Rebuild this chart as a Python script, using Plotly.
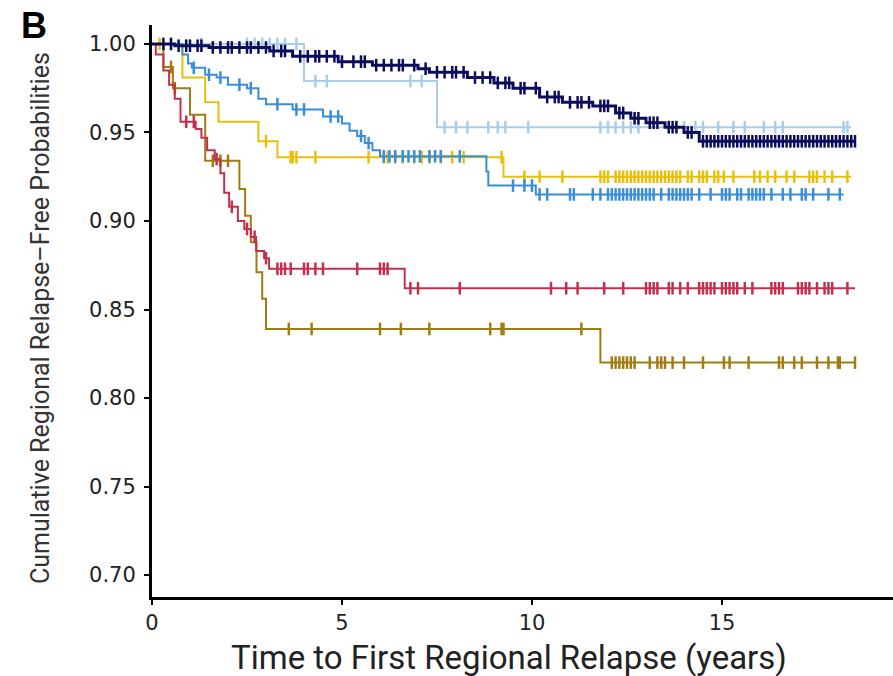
import numpy as np
import plotly.graph_objects as go

# ---------------- data ----------------
navy_t = [0.6, 1.5, 3.1, 3.7, 4.9, 5.8, 7.0, 7.3, 8.3, 9.0, 9.5, 10.2, 10.8, 11.6, 12.2, 12.6, 13.0, 13.5, 14.0, 14.4]
navy_s = [0.999, 0.998, 0.996, 0.993, 0.990, 0.988, 0.986, 0.984, 0.981, 0.978, 0.975, 0.970, 0.967, 0.965, 0.961, 0.958, 0.9555, 0.953, 0.950, 0.945]
navy_end = 18.5
navy_cens = [0.3, 0.5, 0.7, 0.9, 1.0, 1.2, 1.3, 1.6, 1.8, 2.0, 2.1, 2.3, 2.5, 2.6, 2.8, 3.0, 3.2, 3.4, 3.5, 3.9,
             4.1, 4.3, 4.4, 4.6, 4.8, 5.0, 5.3, 5.5, 5.6, 5.9, 6.1, 6.3, 6.5, 6.6, 6.9, 7.2, 7.5, 7.7, 7.9, 8.0,
             8.2, 8.5, 8.7, 8.9, 9.1, 9.3, 9.4, 9.7, 9.8, 10.1, 10.4, 10.6, 10.7, 11.0, 11.2, 11.3, 11.5, 11.8,
             11.9, 12.0, 12.3, 12.4, 12.7, 12.8, 13.1, 13.2, 13.3, 13.6, 13.7, 13.8, 14.1, 14.2, 14.5, 14.6, 14.7,
             14.8, 14.9, 15.0, 15.1, 15.2, 15.3, 15.4, 15.5, 15.6, 15.7, 15.8, 15.9, 16.0, 16.1, 16.2, 16.3, 16.4,
             16.5, 16.6, 16.7, 16.8, 16.9, 17.0, 17.1, 17.2, 17.3, 17.4, 17.5, 17.6, 17.7, 17.8, 17.9, 18.0, 18.1,
             18.2, 18.3, 18.4, 18.5]

light_t = [4.0, 7.5]
light_s = [0.979, 0.953]
light_end = 18.4
light_cens = [1.3, 2.5, 2.7, 2.9, 3.1, 3.3, 3.5, 3.8, 4.3, 4.6, 6.8, 7.1, 7.7, 8.0, 8.3, 8.85, 9.1, 9.3, 9.9,
              11.8, 12.0, 12.2, 12.4, 12.6, 12.8, 13.6, 13.8, 14.0, 14.3, 14.5, 14.9, 15.3, 15.6, 16.1, 16.4,
              16.6, 18.2, 18.3]

mid_t = [0.8, 0.95, 1.05, 1.4, 1.7, 2.0, 2.5, 2.8, 3.0, 3.7, 4.5, 5.0, 5.2, 5.4, 5.6, 5.8, 6.0, 8.8, 8.85, 10.1]
mid_s = [0.994, 0.989, 0.9865, 0.9826, 0.981, 0.977, 0.975, 0.969, 0.966, 0.963, 0.959, 0.955, 0.951, 0.948,
         0.944, 0.940, 0.9365, 0.928, 0.920, 0.915]
mid_end = 18.2
mid_cens = [1.1, 1.5, 1.8, 2.3, 2.6, 3.3, 3.8, 4.0, 4.7, 4.9, 5.5, 5.7, 6.1, 6.25, 6.4, 6.6, 6.75, 6.9, 7.05,
            7.3, 7.45, 7.6, 8.1, 9.5, 9.8, 10.0, 10.2, 10.4, 11.0, 11.1, 11.6, 11.8, 12.0, 12.1, 12.2, 12.3,
            12.4, 12.5, 12.6, 12.7, 12.8, 12.9, 13.0, 13.1, 13.2, 13.4, 13.6, 13.7, 13.8, 13.9, 14.0, 14.1,
            14.2, 14.4, 14.7, 15.0, 15.1, 15.2, 15.4, 15.5, 15.7, 15.8, 15.9, 16.0, 16.1, 16.3, 16.6, 16.8,
            17.1, 17.2, 17.4, 17.8, 18.1]

yel_t = [0.8, 1.4, 1.75, 2.8, 3.3, 9.25]
yel_s = [0.981, 0.967, 0.956, 0.945, 0.936, 0.925]
yel_end = 18.4
yel_cens = [0.2, 0.5, 3.0, 3.65, 3.7, 3.8, 4.3, 5.7, 6.1, 6.2, 6.4, 6.6, 6.9, 7.1, 7.3, 7.6, 7.9, 8.2, 9.2,
            9.8, 10.2, 10.8, 11.8, 11.9, 12.0, 12.2, 12.3, 12.4, 12.5, 12.6, 12.7, 12.8, 12.9, 13.0, 13.1,
            13.2, 13.3, 13.4, 13.5, 13.6, 13.7, 13.8, 13.9, 14.1, 14.2, 14.4, 14.5, 14.6, 14.8, 14.9, 15.05,
            15.3, 15.85, 16.0, 16.2, 16.4, 16.7, 16.9, 17.3, 17.4, 17.5, 17.7, 17.9, 18.3]

red_t = [0.1, 0.3, 0.45, 0.6, 0.75, 1.15, 1.3, 1.45, 1.65, 1.8, 1.9, 2.03, 2.26, 2.43, 2.6, 2.74, 2.95, 3.08, 6.65]
red_s = [0.994, 0.985, 0.977, 0.969, 0.956, 0.952, 0.947, 0.940, 0.935, 0.927, 0.916, 0.908, 0.900, 0.8955,
         0.891, 0.883, 0.879, 0.873, 0.862]
red_end = 18.5
red_cens = [0.9, 1.1, 1.7, 2.1, 2.5, 2.7, 3.0, 3.3, 3.4, 3.5, 3.65, 4.0, 4.1, 4.3, 4.5, 5.4, 6.0, 6.1, 6.2,
            6.8, 7.0, 8.1, 10.5, 10.9, 11.2, 11.9, 12.4, 13.0, 13.1, 13.2, 13.3, 13.6, 13.7, 13.9, 14.1,
            14.4, 14.5, 14.6, 14.7, 14.8, 15.0, 15.1, 15.2, 15.3, 15.4, 15.6, 15.8, 16.3, 16.4, 16.5, 16.6,
            17.0, 17.1, 17.2, 17.3, 17.5, 17.7, 17.8, 17.9, 18.3]

oli_t = [0.3, 0.55, 1.0, 1.4, 2.3, 2.45, 2.6, 2.75, 2.9, 3.0, 11.8]
oli_s = [0.987, 0.975, 0.960, 0.934, 0.918, 0.903, 0.888, 0.871, 0.856, 0.839, 0.820]
oli_end = 18.5
oli_cens = [0.5, 0.6, 1.6, 1.8, 2.0, 3.6, 4.2, 6.0, 6.55, 7.3, 8.9, 9.2, 9.25, 11.3, 12.1, 12.2, 12.3, 12.4,
            12.5, 12.6, 12.7, 13.1, 13.3, 13.4, 13.5, 13.7, 14.0, 14.5, 15.05, 15.2, 15.7, 16.5, 16.6, 16.9,
            17.1, 17.5, 17.8, 18.05, 18.1, 18.5]

x_ticks = [0, 5, 10, 15]
y_ticks = [0.70, 0.75, 0.80, 0.85, 0.90, 0.95, 1.00]

series = [
    ("light", light_t, light_s, light_end, light_cens, "#a9cdea", 2),
    ("olive", oli_t, oli_s, oli_end, oli_cens, "#a07c10", 2),
    ("red", red_t, red_s, red_end, red_cens, "#c3304f", 2),
    ("yellow", yel_t, yel_s, yel_end, yel_cens, "#e8c00c", 2),
    ("mid", mid_t, mid_s, mid_end, mid_cens, "#3a8ed8", 2),
    ("navy", navy_t, navy_s, navy_end, navy_cens, "#0c0c5c", 3),
]

fig = go.Figure()
for name, t, s, tend, cens, col, lw in series:
    xs = [0.0] + list(t) + [tend]
    ys = [1.0] + list(s) + [s[-1]]
    fig.add_trace(go.Scatter(x=xs, y=ys, mode="lines", line=dict(color=col, width=lw, shape="hv"),
                             showlegend=False, hoverinfo="skip"))
    tt = np.array(t)
    ss = np.array(s)
    c = np.array(cens)
    idx = np.searchsorted(tt, c, side="right") - 1
    cy = np.where(idx >= 0, ss[np.clip(idx, 0, None)], 1.0)
    fig.add_trace(go.Scatter(x=c, y=cy, mode="markers",
                             marker=dict(symbol="line-ns", size=9, line=dict(color=col, width=2.5)),
                             showlegend=False, hoverinfo="skip"))

fig.update_layout(
    width=893, height=676,
    margin=dict(l=152, r=0, t=25, b=79),
    paper_bgcolor="white", plot_bgcolor="white",
    font=dict(family="Liberation Sans, Arial, sans-serif", color="#222"),
)
fig.update_xaxes(range=[0, 19.5], tickvals=x_ticks, ticktext=[str(v) for v in x_ticks],
                 showgrid=False, zeroline=False, showline=True, linecolor="black", linewidth=3,
                 ticks="outside", ticklen=5, tickwidth=2, tickcolor="black",
                 tickfont=dict(family="DejaVu Sans, sans-serif", size=21, color="#222"))
fig.update_yaxes(range=[0.6876, 1.0107], tickvals=y_ticks, ticktext=[f"{v:.2f}" for v in y_ticks],
                 showgrid=False, zeroline=False, showline=True, linecolor="black", linewidth=3,
                 ticks="outside", ticklen=5, tickwidth=2, tickcolor="black", ticklabelstandoff=4,
                 tickfont=dict(family="DejaVu Sans, sans-serif", size=21, color="#222"))

fig.add_annotation(text="<b>B</b>", xref="paper", yref="paper", x=(19 - 152) / 741, y=(597 - 25) / 572,
                   xanchor="left", yanchor="middle", showarrow=False,
                   font=dict(family="Liberation Sans, Arial, sans-serif", size=36, color="black"))
fig.add_annotation(text="Cumulative Regional Relapse–Free Probabilities", xref="paper", yref="paper",
                   x=(40 - 152) / 741, y=(597 - 318) / 572, textangle=-90, showarrow=False,
                   xanchor="center", yanchor="middle",
                   font=dict(family="Liberation Sans Narrow, Roboto, sans-serif", size=25, color="#333"))
fig.add_annotation(text="Time to First Regional Relapse (years)", xref="paper", yref="paper",
                   x=(509 - 152) / 741, y=(597 - 657) / 572, showarrow=False,
                   xanchor="center", yanchor="middle",
                   font=dict(family="Liberation Sans Narrow, Roboto, sans-serif", size=33, color="#222"))

fig.write_html("out.html")
